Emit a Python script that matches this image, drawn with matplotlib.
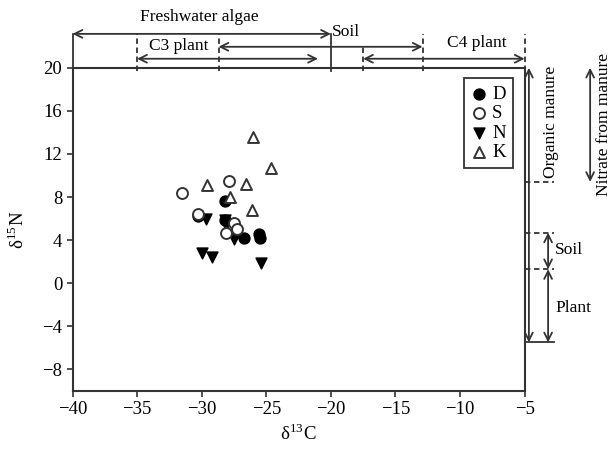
import matplotlib.pyplot as plt

plt.rcParams['font.family'] = ['Liberation Serif', 'DejaVu Serif']
plt.rcParams['mathtext.fontset'] = 'stix'

# Data points (delta13C, delta15N) per site
D_x = [-28.2, -30.3, -28.2, -26.7, -25.6, -25.5]
D_y = [7.6, 6.2, 5.9, 4.2, 4.6, 4.2]
S_x = [-31.5, -27.9, -30.3, -27.5, -27.3, -28.15]
S_y = [8.4, 9.5, 6.4, 5.6, 5.0, 4.7]
N_x = [-29.7, -28.2, -28.1, -27.5, -30.0, -29.2, -25.4]
N_y = [6.0, 5.9, 5.4, 4.1, 2.8, 2.4, 1.9]
K_x = [-26.0, -24.6, -29.6, -26.6, -27.8, -26.1]
K_y = [13.6, 10.7, 9.1, 9.2, 8.0, 6.8]

xticks = [-40, -35, -30, -25, -20, -15, -10, -5]
yticks = [-8, -4, 0, 4, 8, 12, 16, 20]

# source ranges on delta13C (top) and delta15N (right)
c_algae = (-40, -20)
c_c3 = (-35, -21)
c_soil = (-28.7, -12.9)
c_c4 = (-17.5, -5)
n_organic = (20, -5.5)
n_soil = (4.7, 1.3)
n_plant = (1.3, -5.5)
n_nitrate = (20, 9.4)

edge = '#333333'

fig = plt.figure(figsize=(6.15, 4.55), dpi=100)
ax = fig.add_axes([0.118, 0.141, 0.735, 0.71])

ax.scatter(D_x, D_y, marker='o', s=62, c='black', label='D', zorder=3)
ax.scatter(N_x, N_y, marker='v', s=62, c='black', label='N', zorder=3)
ax.scatter(S_x, S_y, marker='o', s=62, facecolors='white', edgecolors=edge,
           linewidths=1.4, label='S', zorder=4)
ax.scatter(K_x, K_y, marker='^', s=62, facecolors='white', edgecolors=edge,
           linewidths=1.4, label='K', zorder=4)

ax.set_xlim(-40, -5)
ax.set_ylim(-10, 20)
ax.set_xticks(xticks)
ax.set_yticks(yticks)
ax.set_xticklabels(['\u2212%d' % abs(v) for v in xticks])
ax.set_yticklabels([('\u2212%d' % abs(v)) if v < 0 else str(v) for v in yticks])
ax.tick_params(direction='out', length=4, width=1.2, color=edge, labelsize=13.5)
for sp in ax.spines.values():
    sp.set_color(edge)
    sp.set_linewidth(1.5)

ax.set_xlabel('\u03b4$^{\\mathregular{13}}$C', fontsize=13.5, labelpad=4)
ax.set_ylabel('\u03b4$^{\\mathregular{15}}$N', fontsize=13.5, labelpad=10)

h, l = ax.get_legend_handles_labels()
order = [l.index(k) for k in ['D', 'S', 'N', 'K']]
leg = ax.legend([h[i] for i in order], [l[i] for i in order], loc='upper right',
                bbox_to_anchor=(0.975, 0.968), fontsize=13.5, frameon=True, fancybox=False,
                edgecolor='black', handlelength=0.8, handletextpad=0.3, labelspacing=0.12,
                borderpad=0.4, borderaxespad=0)
leg.get_frame().set_linewidth(1.3)

# top annotations
tr = ('data', 'axes fraction')
arrow = dict(arrowstyle='<->', color=edge, lw=1.3, shrinkA=0, shrinkB=0,
             mutation_scale=14)
y_top, y_mid, y_bot = 1.105, 1.065, 1.028


def harrow(x0, x1, y):
    ax.annotate('', xy=(x1, y), xytext=(x0, y), xycoords=tr, textcoords=tr,
                arrowprops=arrow, annotation_clip=False)


def vline(x, y0, y1, ls):
    ax.plot([x, x], [y0, y1], transform=ax.get_xaxis_transform(), color=edge,
            lw=1.3, ls=ls, clip_on=False)


harrow(c_algae[0], c_algae[1], y_top)
harrow(c_soil[0], c_soil[1], y_mid)
harrow(c_c3[0], c_c3[1], y_bot)
harrow(c_c4[0], c_c4[1], y_bot)
vline(c_algae[0], 1.0, y_top, '-')
vline(c_algae[1], 0.99, y_top, '-')
vline(c_c3[0], 0.99, y_top, (0, (3, 2)))
vline(c_soil[0], 0.99, y_top, (0, (3, 2)))
vline(c_c4[0], 0.99, y_mid, (0, (3, 2)))
vline(c_soil[1], 0.99, y_top, (0, (3, 2)))
vline(c_c4[1], 0.99, y_top, (0, (3, 2)))

ax.text(-30.2, 1.158, 'Freshwater algae', transform=ax.get_xaxis_transform(),
        ha='center', va='center', fontsize=12.5)
ax.text(-18.8, 1.111, 'Soil', transform=ax.get_xaxis_transform(),
        ha='center', va='center', fontsize=12.5)
ax.text(-31.8, 1.068, 'C3 plant', transform=ax.get_xaxis_transform(),
        ha='center', va='center', fontsize=12.5)
ax.text(-8.7, 1.077, 'C4 plant', transform=ax.get_xaxis_transform(),
        ha='center', va='center', fontsize=12.5)

# right annotations
tr2 = ('axes fraction', 'data')
x_org, x_sp, x_nit = 1.0095, 1.052, 1.145


def varrow(x, y0, y1):
    ax.annotate('', xy=(x, y1), xytext=(x, y0), xycoords=tr2, textcoords=tr2,
                arrowprops=arrow, annotation_clip=False)


def hline(y, x0, x1, ls):
    ax.plot([x0, x1], [y, y], transform=ax.get_yaxis_transform(), color=edge,
            lw=1.3, ls=ls, clip_on=False)


varrow(x_org, n_organic[0], n_organic[1])
varrow(x_sp, n_soil[0], n_soil[1])
varrow(x_sp, n_plant[0], n_plant[1])
varrow(x_nit, n_nitrate[0], n_nitrate[1])
hline(n_nitrate[1], 1.0, 1.066, (0, (3, 2)))
hline(n_soil[0], 1.0, 1.066, (0, (3, 2)))
hline(n_soil[1], 1.0, 1.066, (0, (3, 2)))
hline(n_plant[1], 1.0, 1.066, '-')

ax.text(1.058, 15.0, 'Organic manure', transform=ax.get_yaxis_transform(),
        rotation=90, ha='center', va='center', fontsize=12.5)
ax.text(1.176, 14.7, 'Nitrate from manure', transform=ax.get_yaxis_transform(),
        rotation=90, ha='center', va='center', fontsize=12.5)
ax.text(1.068, 3.1, 'Soil', transform=ax.get_yaxis_transform(),
        ha='left', va='center', fontsize=12.5)
ax.text(1.068, -2.3, 'Plant', transform=ax.get_yaxis_transform(),
        ha='left', va='center', fontsize=12.5)

fig.savefig('out.png', dpi=100)
